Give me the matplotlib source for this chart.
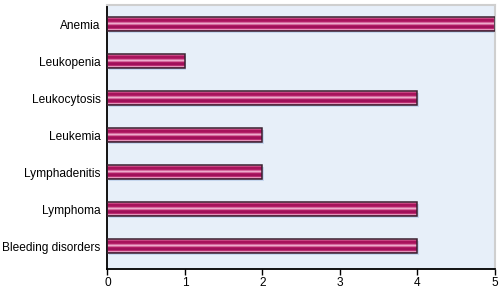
import numpy as np
import matplotlib
matplotlib.use("Agg")
import matplotlib.pyplot as plt

plt.rcParams['font.family'] = ['Liberation Sans', 'DejaVu Sans']

categories = ["Anemia", "Leukopenia", "Leukocytosis", "Leukemia",
              "Lymphadenitis", "Lymphoma", "Bleeding disorders"]
counts = [5, 1, 4, 2, 2, 4, 4]
xticks = [0, 1, 2, 3, 4, 5]

# stripe colours of the bar, top to bottom
stripes = ['#e58ab2', '#c84482', '#a8135c', '#b41f68', '#d46a9e', '#eeaacb',
           '#d46a9e', '#b01b64', '#a0105a', '#bc2c72', '#e394bb', '#c24680']

fig = plt.figure(figsize=(5.02, 2.88), dpi=100)
ax = fig.add_axes([0.214, 0.066, 0.772, 0.917])
ax.set_facecolor('#e7eff9')

y = np.arange(len(categories))[::-1]
h = 0.38
n = len(stripes)
# light blue shadow under each bar
ax.barh(y - 0.06, counts, height=h, left=0.02, color='#c6d7ef', zorder=1)
for i, c in enumerate(stripes):
    off = h / 2 - (i + 0.5) * h / n
    ax.barh(y + off, counts, height=h / n, color=c, linewidth=0, zorder=2)
ax.barh(y, counts, height=h, fill=False, edgecolor='#3a2030', linewidth=1.1, zorder=3)

ax.set_xlim(0, 5)
ax.set_ylim(-0.62, 6.52)
ax.set_xticks(xticks)
ax.set_yticks(y)
ax.set_yticklabels(categories, fontsize=8.6)
ax.tick_params(axis='y', length=0, pad=5)
ax.tick_params(axis='x', length=4, width=1, direction='out', labelsize=8.6, pad=2)

ax.spines['left'].set_linewidth(1.3)
ax.spines['bottom'].set_linewidth(1.3)
ax.spines['top'].set_color('#cfcfcf')
ax.spines['right'].set_color('#cfcfcf')
ax.spines['top'].set_linewidth(1.5)
ax.spines['right'].set_linewidth(1.5)

fig.savefig("out.png", dpi=100)
